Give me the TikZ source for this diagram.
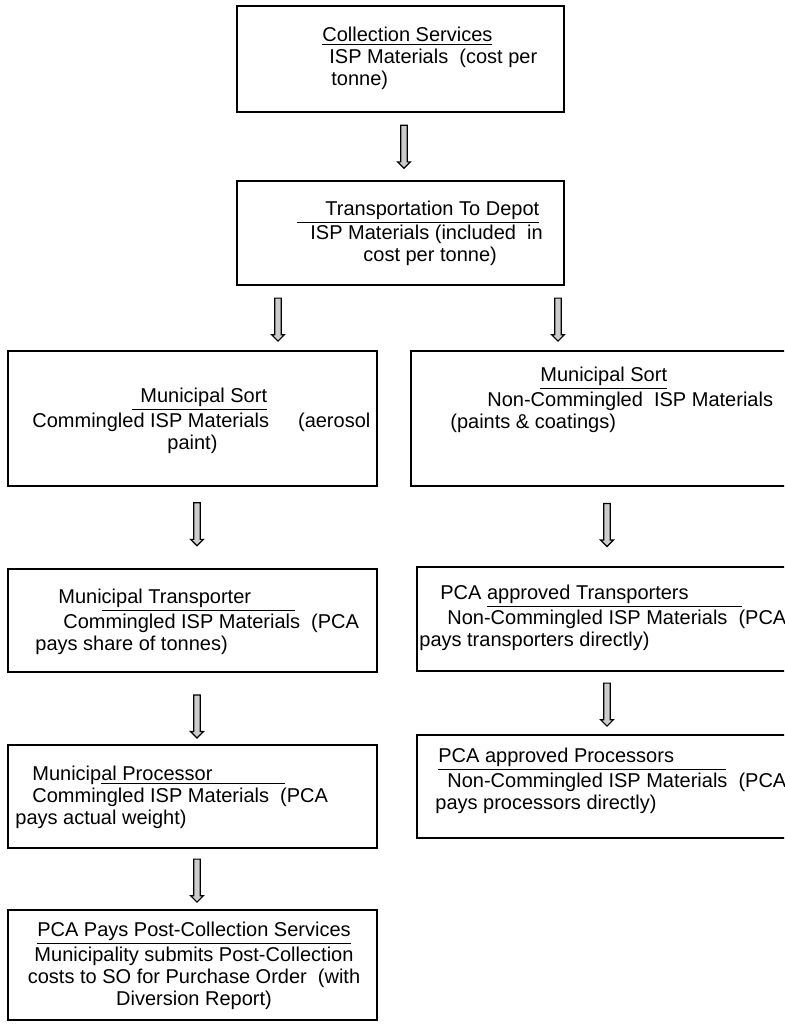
\documentclass[tikz,border=0pt]{standalone}
\usepackage{fontspec}
\setmainfont{Liberation Sans}
\usetikzlibrary{shapes.arrows}
\tikzstyle{box}=[draw,line width=1.1pt,inner sep=0pt]
\tikzstyle{boxtext}=[inner sep=0pt,font=\fontsize{10}{11}\selectfont]
\tikzstyle{blockarrow}=[single arrow,draw=black,line width=0.6pt,fill=black!20,
  shape border rotate=270,minimum height=21.5pt,minimum width=6pt,
  single arrow head extend=1.6pt,inner sep=1.3pt]

\begin{document}
\begin{tikzpicture}[x=0.5pt,y=-0.5pt]
    \useasboundingbox (0,0) rectangle (784,1024);
    \clip (0,0) rectangle (784,1024);
    % First the boxes: centre / name / width / height
    \foreach \pos/\name/\w/\h in {{(400.5,59)/coll/327/106}, {(400.5,233)/trans/327/104},
    {(192.5,418.5)/sortL/369/135}, {(605.5,418.5)/sortR/389/135},
    {(192.5,620.5)/trspL/369/103}, {(608.5,619)/trspR/383/104},
    {(192.5,796.5)/procL/369/103}, {(608.5,786.5)/procR/383/103},
    {(192.5,965)/post/369/110}}
        \node[box,minimum width=\w*0.5pt,minimum height=\h*0.5pt] (\name) at \pos {};

    % then the texts in them
    \foreach \pos/\an/\al/\name/\label in {
    {(322,58)/west/left/coll/{\underline{Collection Services}\\\hspace*{3.5pt}ISP Materials\ \ (cost per\\\hspace*{4.5pt}tonne)}},
    {(297,233.5)/west/left/trans/{\underline{\hspace*{14pt}Transportation To Depot}\\\hspace*{6.5pt}ISP Materials (included\ \ in\\\hspace*{33pt}cost per tonne)}},
    {(32,420.5)/west/left/sortL/{\hspace*{50pt}\underline{\hspace*{4pt}Municipal Sort}\\Commingled ISP Materials\hspace{14.5pt}(aerosol\\\hspace*{67.5pt}paint)}},
    {(450,399.5)/west/left/sortR/{\hspace*{45pt}\underline{Municipal Sort}\\\hspace*{18.5pt}Non-Commingled\ \ ISP Materials\\(paints \& coatings)}},
    {(35,621.5)/west/left/trspL/{\hspace*{11.5pt}Muni\underline{cipal Transporter\hspace*{22pt}}\\\hspace*{14pt}Commingled ISP Materials\ \ (PCA\\pays share of tonnes)}},
    {(419,617.5)/west/left/trspR/{\hspace*{10.5pt}PCA \underline{approved Transporters\hspace*{26.5pt}}\\\hspace*{14pt}Non-Commingled ISP Materials\ \ (PCA\\pays transporters directly)}},
    {(15,797.5)/west/left/procL/{\hspace*{8.5pt}Municip\underline{al Processor\hspace*{36.5pt}}\\\hspace*{8.5pt}Commingled ISP Materials\ \ (PCA\\pays actual weight)}},
    {(435,781)/west/left/procR/{\hspace*{1.5pt}\underline{PCA approved Processors\hspace*{26pt}}\\\hspace*{6pt}Non-Commingled ISP Materials\ \ (PCA\\pays processors directly)}},
    {(194,966)/center/center/post/{\underline{PCA Pays Post-Collection Services}\\Municipality submits Post-Collection\\costs to SO for Purchase Order\ \ (with\\Diversion Report)}}}
        \node[boxtext,anchor=\an,align=\al] (t\name) at \pos {\label};

    % Connect the boxes with block arrows
    \foreach \source/\dest/\x/\p in {coll/trans/404/0.48, trans/sortL/278/0.5, trans/sortR/558/0.5,
    sortL/trspL/197/0.44, sortR/trspR/607/0.46, trspL/procL/197/0.59,
    trspR/procR/607/0.5, procL/post/197/0.5}
        \path (\source.south -| \x,0) -- node[blockarrow,pos=\p] (a\source\dest) {} (\dest.north -| \x,0);
\end{tikzpicture}
\end{document}
